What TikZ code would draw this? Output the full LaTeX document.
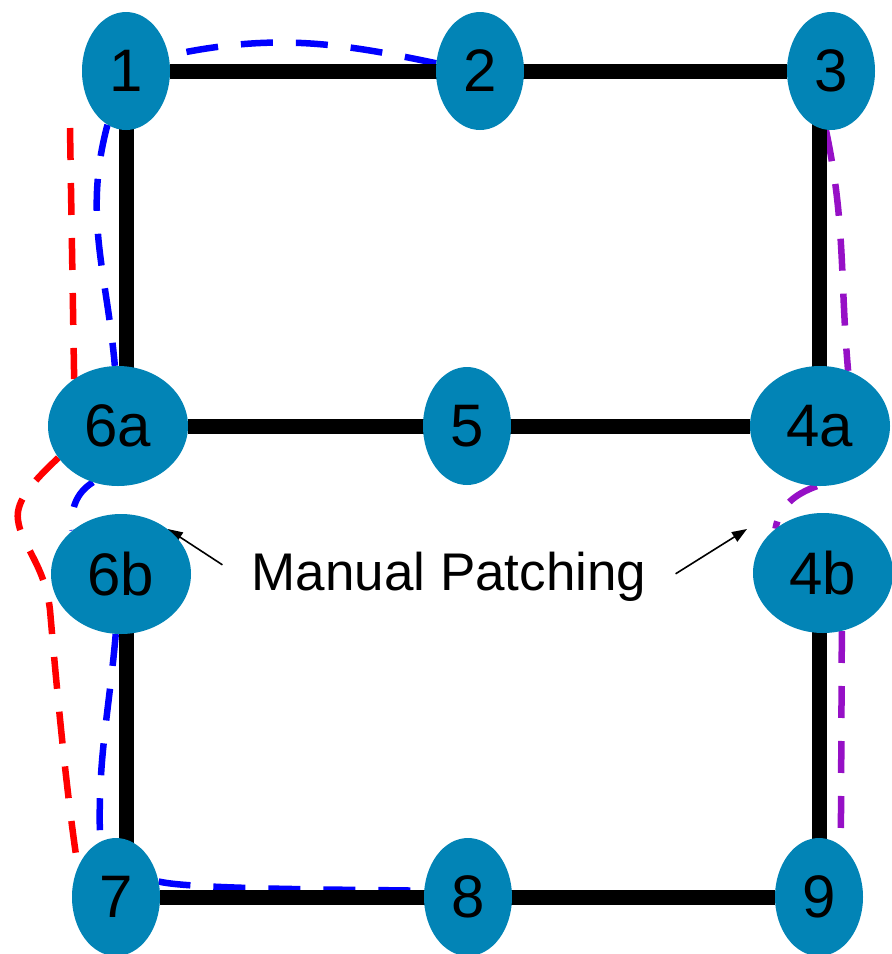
\documentclass[tikz,border=0pt]{standalone}
\usepackage{fontspec}
\setmainfont{Liberation Sans}
\usetikzlibrary{shapes.geometric,arrows.meta}
\definecolor{nodeblue}{RGB}{2,132,182}
\definecolor{patchpurple}{RGB}{150,16,198}
\definecolor{pathblue}{RGB}{0,0,255}
\definecolor{pathred}{RGB}{255,0,0}
\pgfdeclarelayer{paper}
\pgfdeclarelayer{routes}
\pgfdeclarelayer{links}
\pgfsetlayers{paper,routes,links,main}
\tikzset{
  sw/.style={ellipse, fill=nodeblue, inner sep=0pt, minimum width=88pt, minimum height=118pt, font=\fontsize{60}{60}\selectfont},
  swwide/.style={sw, minimum width=140pt, minimum height=120pt},
  link/.style={line width=15pt, black},
  route/.style={line width=6.5pt, dash pattern=on 32pt off 23pt},
  callout/.style={line width=1.6pt, -{Triangle[length=15pt,width=11pt]}},
}
\begin{document}
\begin{tikzpicture}[x=1pt,y=-1pt]
\useasboundingbox (0,0) rectangle (892,954);
\begin{pgfonlayer}{paper}
\fill[white] (0,0) rectangle (892,954);
\end{pgfonlayer}

% switches
\node[sw] (n1) at (126,71) {1};
\node[sw] (n2) at (480,71) {2};
\node[sw] (n3) at (831,71) {3};
\node[swwide] (n6a) at (118,426) {6a};
\node[sw] (n5) at (467,426) {5};
\node[swwide] (n4a) at (820,426) {4a};
\node[swwide] (n6b) at (121,574) {6b};
\node[swwide] (n4b) at (823,573) {4b};
\node[sw] (n7) at (116,897) {7};
\node[sw] (n8) at (468,897) {8};
\node[sw] (n9) at (819,897) {9};
\node[font=\fontsize{53}{53}\selectfont, inner sep=0pt, inner xsep=29pt, anchor=base] (mp) at (449,590) {Manual Patching};
\coordinate (rtop) at (70,128);
\coordinate (ptipR) at (747,529);

% links
\begin{pgfonlayer}{links}
\draw[link] (n1) -- (n3);
\draw[link] (n6a) -- (n4a);
\draw[link] (n7) -- (n9);
\draw[link] (n1.center) -- (n1.center |- n6a.center);
\draw[link] (n6b.center -| n1.center) -- (n7.center -| n1.center);
\draw[link] (n3.center -| n9.center) -- (n4a.center -| n9.center);
\draw[link] (n4b.center -| n9.center) -- (n9.center);
\draw[callout] ([yshift=11.5pt]mp.west) -- (n6b.44);
\draw[callout] ([yshift=2.5pt]mp.east) -- (ptipR);
\end{pgfonlayer}

% routes
\begin{pgfonlayer}{routes}
\draw[route, pathblue]
  (n2.170) to[out=168, in=12] (n1.20)
  (n1.251) to[out=255, in=95] (n6a.93)
  (n6a.246) to[out=212, in=97] (n6b.138)
  (n6b.265) to[out=265, in=92] (n7.106)
  (n7.20) to[out=-14, in=178, looseness=0.35] (n8.172);
\draw[route, pathred]
  (rtop) -- (n6a.133)
  (n6a.208) .. controls (35,480) and (15,500) .. (18,520)
            .. controls (21,545) and (45,565) .. (50,610)
            .. controls (56,680) and (66,790) .. (n7.142);
\draw[route, patchpurple]
  (n3.265) to[out=-78, in=95] (n4a.63)
  (n4a.267) to[out=200, in=80] (n4b.137)
  (n4b.288) -- (n9.67);
\end{pgfonlayer}
\end{tikzpicture}
\end{document}
